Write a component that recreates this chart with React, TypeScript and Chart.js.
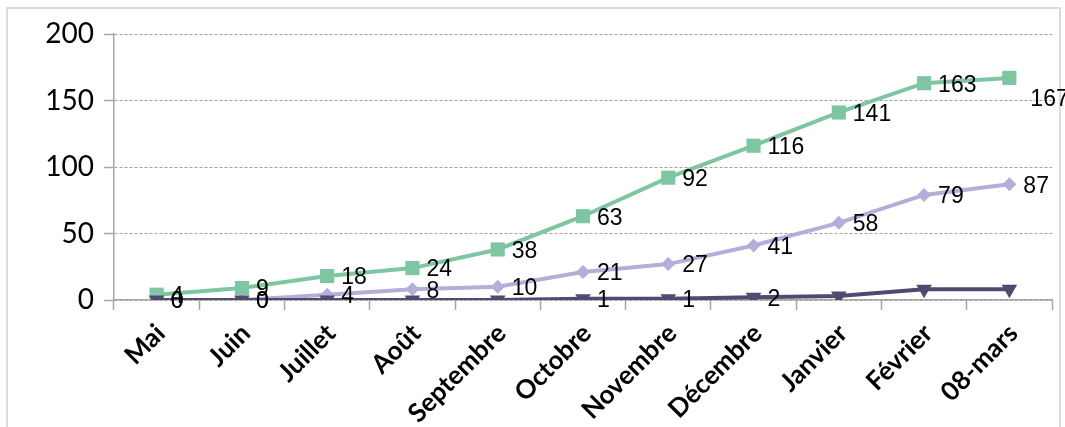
import React, { useEffect, useRef } from "react";
import { Chart, registerables } from "chart.js";

Chart.register(...registerables);

const categories = ["Mai", "Juin", "Juillet", "Août", "Septembre", "Octobre", "Novembre", "Décembre", "Janvier", "Février", "08-mars"];
const greenValues = [4, 9, 18, 24, 38, 63, 92, 116, 141, 163, 167];
const lavenderValues = [0, 0, 4, 8, 10, 21, 27, 41, 58, 79, 87];
const darkValues = [0, 0, 0, 0, 0, 1, 1, 2, 3, 8, 8];
const greenLabels = ["4", "9", "18", "24", "38", "63", "92", "116", "141", "163", "167"];
const lavenderLabels = ["0", "0", "4", "8", "10", "21", "27", "41", "58", "79", "87"];
const darkLabels = ["0", "0", null, null, null, "1", "1", "2", null, null, null];
const yTicks = [0, 50, 100, 150, 200];

const GREEN = "#7dc6a1";
const LAVENDER = "#b8acd8";
const DARK = "#4d4c70";

const framePlugin = {
  id: "frame",
  beforeDraw(chart: any) {
    const ctx = chart.ctx;
    ctx.save();
    ctx.fillStyle = "#fff";
    ctx.fillRect(0, 0, chart.width, chart.height);
    ctx.strokeStyle = "#dcdcdc";
    ctx.lineWidth = 2;
    ctx.strokeRect(7, 8, 1053, 460);
    ctx.restore();
  },
};

const labelPlugin = {
  id: "pointLabels",
  afterDatasetsDraw(chart: any) {
    const ctx = chart.ctx;
    ctx.save();
    ctx.font = "23px 'Liberation Sans', Arial, sans-serif";
    ctx.fillStyle = "#000";
    ctx.textBaseline = "middle";
    ctx.textAlign = "left";
    const order = [2, 1, 0];
    for (const di of order) {
      const ds = chart.data.datasets[di] as any;
      const meta = chart.getDatasetMeta(di);
      const labels = ds.pointLabels as (string | null)[];
      meta.data.forEach((pt: any, i: number) => {
        const txt = labels[i];
        if (txt == null) return;
        let dx = 14;
        let dy = 2;
        if (di === 2 && i === labels.length - 1) {
          dx = 21;
          dy = 22;
        }
        ctx.fillText(txt, pt.x + dx, pt.y + dy);
      });
    }
    ctx.restore();
  },
};

export default function App() {
  const ref = useRef<HTMLCanvasElement | null>(null);
  useEffect(() => {
    if (!ref.current) return;
    const chart = new Chart(ref.current, {
      type: "line",
      data: {
        labels: categories,
        datasets: [
          {
            label: "C",
            data: darkValues,
            pointLabels: darkLabels,
            borderColor: DARK,
            backgroundColor: DARK,
            borderWidth: 4,
            pointStyle: "triangle",
            pointRotation: 180,
            pointRadius: 9,
            pointBorderWidth: 0,
            tension: 0,
          } as any,
          {
            label: "B",
            data: lavenderValues,
            pointLabels: lavenderLabels,
            borderColor: LAVENDER,
            backgroundColor: LAVENDER,
            borderWidth: 4,
            pointStyle: "rectRot",
            pointRadius: 7,
            pointBorderWidth: 0,
            tension: 0,
          } as any,
          {
            label: "A",
            data: greenValues,
            pointLabels: greenLabels,
            borderColor: GREEN,
            backgroundColor: GREEN,
            borderWidth: 4,
            pointStyle: "rect",
            pointRadius: 10,
            pointBorderWidth: 0,
            tension: 0,
          } as any,
        ],
      },
      options: {
        responsive: false,
        animation: false,
        devicePixelRatio: 1,
        layout: { padding: { left: 8, right: 13, top: 34, bottom: 0 } },
        plugins: {
          legend: { display: false },
          title: { display: false },
          tooltip: { enabled: false },
        },
        scales: {
          x: {
            offset: true,
            grid: {
              display: true,
              drawOnChartArea: false,
              drawTicks: true,
              tickLength: 10,
              tickColor: "#a6a6a6",
              tickWidth: 1.5,
              offset: true,
            },
            border: { display: true, color: "#a6a6a6", width: 1.5 },
            ticks: {
              autoSkip: false,
              minRotation: 45,
              maxRotation: 45,
              padding: 8,
              labelOffset: 4,
              color: "#000",
              font: { family: "Lato", size: 26, weight: "bold" },
            },
            afterFit(scale: any) {
              scale.height = 127;
            },
          },
          y: {
            min: 0,
            max: 200,
            afterBuildTicks(scale: any) {
              scale.ticks = yTicks.map((v) => ({ value: v }));
            },
            grid: {
              color: "#a0a0a0",
              lineWidth: 1,
              tickLength: 10,
              tickColor: "#a6a6a6",
              tickWidth: 1.5,
              tickBorderDash: [],
            },
            border: { display: true, color: "#a6a6a6", width: 1.5, dash: [3, 2] },
            ticks: {
              padding: 10,
              color: "#000",
              font: { family: "Lato", size: 28 },
            },
            afterFit(scale: any) {
              scale.width = 106;
            },
          },
        },
      } as any,
      plugins: [framePlugin, labelPlugin],
    });
    return () => chart.destroy();
  }, []);
  return (
    <div style={{ position: "fixed", left: 0, top: 0, width: 1065, height: 427 }}>
      <canvas ref={ref} width={1065} height={427} />
    </div>
  );
}
